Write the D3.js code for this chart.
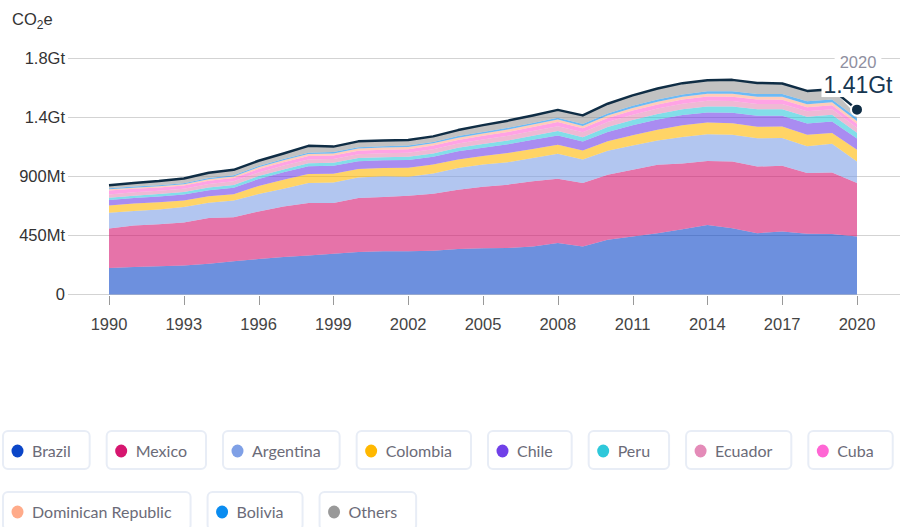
<!DOCTYPE html>
<html>
<head>
<meta charset="utf-8">
<script src="https://cdn.jsdelivr.net/npm/d3@7"></script>
<style>
body{margin:0;background:#fff;}
svg{display:block;font-family:"Liberation Sans",Arial,sans-serif;}
</style>
</head>
<body>
<svg id="chart" width="900" height="527"></svg>
<script>
// emissions in Mt CO2e
const years=[1990,1991,1992,1993,1994,1995,1996,1997,1998,1999,2000,2001,2002,2003,2004,2005,2006,2007,2008,2009,2010,2011,2012,2013,2014,2015,2016,2017,2018,2019,2020];
const brazil=[203,210,215,222,235,253,271,286,298,311,324,329,329,334,347,352,355,367,393,367,418,443,468,497,531,506,468,481,463,461,443];
const mexico=[300,317,320,328,349,336,363,386,400,387,412,415,425,435,452,470,483,496,490,484,496,509,521,503,488,508,508,501,463,470,407];
const argentina=[120,110,113,117,115,127,133,134,152,157,157,157,145,153,166,170,171,178,190,178,183,184,186,202,204,204,215,211,204,218,165];
const colombia=[56,57,56,50,50,48,61,69,70,66,64,64,68,69,64,64,71,69,69,69,71,79,82,88,88,89,88,88,89,83,89];
const chile=[41,42,43,45,47,50,53,57,58,61,60,58,59,60,63,64,66,70,70,68,71,76,78,80,77,80,84,83,85,87,85];
const peru=[18,18,19,19,20,21,22,22,23,23,24,24,24,25,27,28,29,31,35,34,38,40,42,43,46,47,50,49,52,52,45];
const ecuador=[25,25,26,26,27,28,28,29,29,28,29,30,31,32,33,34,35,36,37,37,39,40,41,42,43,42,40,40,41,41,38];
const cuba=[31,28,24,24,25,25,26,26,26,27,27,27,27,28,27,28,29,30,31,31,31,32,32,33,33,33,34,33,32,31,30];
const dominican=[8,8,9,10,11,12,13,14,15,16,17,17,17,17,17,18,19,19,19,18,19,20,20,20,21,22,22,22,23,23,22];
const bolivia=[8,8,8,8,9,9,10,10,11,10,10,10,11,11,12,12,13,13,14,14,15,16,17,18,19,20,21,21,21,22,20];
const others=[24,28,32,36,40,42,40,42,52,42,44,44,42,42,46,52,55,57,60,66,74,80,84,86,84,86,84,80,80,78,24];
const total=[834,851,865,885,928,951,1020,1075,1134,1128,1168,1175,1178,1206,1254,1292,1326,1366,1408,1366,1455,1519,1571,1612,1634,1637,1614,1609,1553,1566,1410];

const countries=['Brazil','Mexico','Argentina','Colombia','Chile','Peru','Ecuador','Cuba','Dominican Republic','Bolivia','Others'];
const colors=['#0b46c8','#d6166f','#7fa0e6','#ffb800','#7040e8','#2ec8da','#e48bb8','#ff66d4','#ffab8a','#0a8cf0','#999999'];
const series=[brazil,mexico,argentina,colombia,chile,peru,ecuador,cuba,dominican,bolivia,others];

const yTicks=[0,450,900,1350,1800];
const yTickLabels=['0','450Mt','900Mt','1.4Gt','1.8Gt'];
const xTicks=[1990,1993,1996,1999,2002,2005,2008,2011,2014,2017,2020];

const rows=years.map((yr,i)=>{
    const r={year:yr};
    countries.forEach((c,j)=>r[c]=series[j][i]);
    return r;
});

const svg=d3.select('#chart');
const x=d3.scaleLinear().domain([1990,2020]).range([109,857]);
const y=d3.scaleLinear().domain([0,1800]).range([294.5,58.5]);

// grid + y labels
svg.append('g').selectAll('line').data(yTicks).join('line')
    .attr('x1',68).attr('x2',900)
    .attr('y1',d=>y(d)).attr('y2',d=>y(d))
    .attr('stroke','#d3d3d3').attr('stroke-width',1);
svg.append('g').selectAll('text').data(yTicks).join('text')
    .attr('x',65).attr('y',d=>y(d)).attr('dy','0.35em')
    .attr('text-anchor','end').attr('font-size',16.5).attr('fill','#333')
    .text((d,i)=>yTickLabels[i]);

// unit label
const unit=svg.append('text').attr('x',12).attr('y',25).attr('font-size',16.5).attr('fill','#333');
unit.append('tspan').text('CO');
unit.append('tspan').text('2').attr('font-size',12).attr('dy',4);
unit.append('tspan').text('e').attr('dy',-4);

// x axis ticks
svg.append('g').selectAll('line').data(xTicks).join('line')
    .attr('x1',d=>Math.round(x(d))+0.5).attr('x2',d=>Math.round(x(d))+0.5)
    .attr('y1',296).attr('y2',305)
    .attr('stroke','#999');
svg.append('g').selectAll('text').data(xTicks).join('text')
    .attr('x',d=>x(d)).attr('y',324).attr('dy','0.35em')
    .attr('text-anchor','middle').attr('font-size',16.5).attr('fill','#444')
    .text(d=>d);

// stacked areas
const stacked=d3.stack().keys(countries)(rows);
const area=d3.area()
    .x(d=>x(d.data.year))
    .y0(d=>y(d[0]))
    .y1(d=>y(d[1]));
svg.append('g').selectAll('path').data(stacked).join('path')
    .attr('d',area)
    .attr('fill',(d,i)=>colors[i])
    .attr('fill-opacity',0.6);

// total line
const line=d3.line().x((d,i)=>x(years[i])).y(d=>y(d));
svg.append('path').datum(total)
    .attr('d',line)
    .attr('fill','none')
    .attr('stroke','#0f2d45')
    .attr('stroke-width',2.5)
    .attr('stroke-linejoin','round');

// end annotation
const last=total[total.length-1];
const yr=svg.append('g');
const yrText=yr.append('text').attr('x',858).attr('y',62).attr('dy','0.35em')
    .attr('text-anchor','middle').attr('font-size',16.5).attr('fill','#8f8f9f')
    .text(years[years.length-1]);
let bb=yrText.node().getBBox();
yr.insert('rect','text').attr('x',bb.x-5).attr('y',bb.y).attr('width',bb.width+10).attr('height',bb.height).attr('fill','#fff');

const val=svg.append('g');
const valText=val.append('text').attr('x',858).attr('y',85).attr('dy','0.35em')
    .attr('text-anchor','middle').attr('font-size',23).attr('fill','#163650')
    .text((last/1000).toFixed(2)+'Gt');
bb=valText.node().getBBox();
val.insert('rect','text').attr('x',bb.x-2).attr('y',bb.y+1).attr('width',bb.width+4).attr('height',bb.height-2).attr('fill','#fff');

svg.append('circle')
    .attr('cx',x(2020)).attr('cy',y(last)).attr('r',6)
    .attr('fill','#0f2d45').attr('stroke','#fff').attr('stroke-width',2);

// legend
const legend=svg.append('g').attr('font-family','Lato, sans-serif').attr('font-size',16);
let lx=3, ly=431;
countries.forEach((c,i)=>{
    if(i===8){lx=3;ly=492;}
    const g=legend.append('g').attr('transform','translate('+lx+','+ly+')');
    const t=g.append('text').text(c).attr('x',29).attr('y',20).attr('dy','0.35em').attr('fill','#6b6b78');
    const w=29+t.node().getComputedTextLength()+19;
    g.insert('rect','text').attr('x',0).attr('y',0).attr('width',w).attr('height',38)
        .attr('rx',5).attr('fill','#fff').attr('stroke','#e8edf6').attr('stroke-width',2);
    g.append('ellipse').attr('cx',14.5).attr('cy',20).attr('rx',6).attr('ry',6.5).attr('fill',colors[i]);
    lx+=w+17;
});
</script>
</body>
</html>
